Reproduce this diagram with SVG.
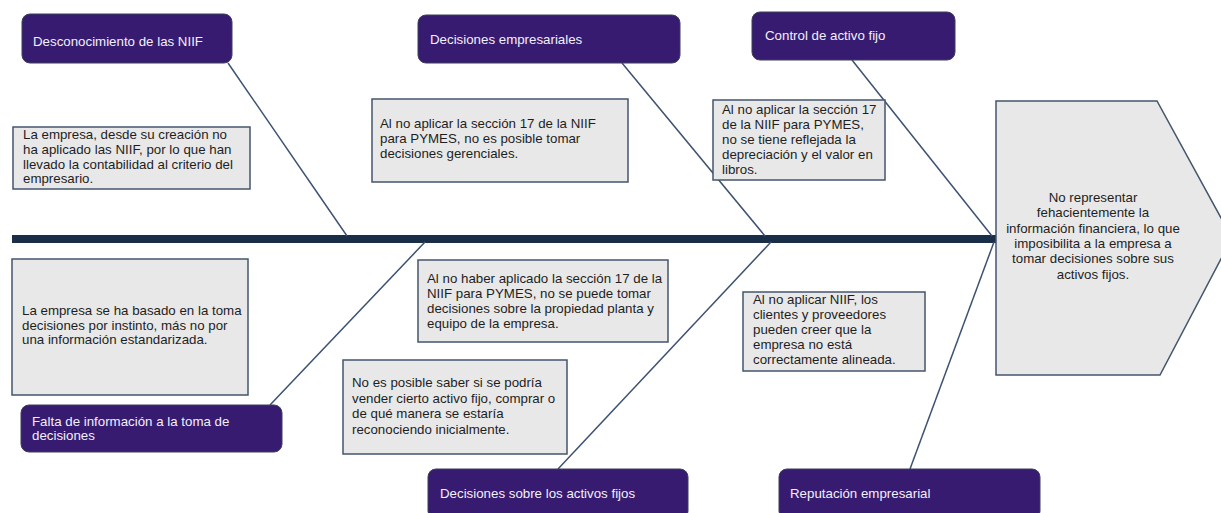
<svg xmlns="http://www.w3.org/2000/svg" width="1221" height="513" viewBox="0 0 1221 513">
<style>
.cat{fill:#371b70;stroke:#3b4058;stroke-width:1}
.ct{font-family:"Liberation Sans",Arial,sans-serif;font-size:13.3px;fill:#f2effa}
.box{fill:#e8e8e8;stroke:#44566e;stroke-width:1.5}
.bt{font-family:"Liberation Sans",Arial,sans-serif;font-size:13.3px;fill:#1e1e1e}
.conn{stroke:#3d5170;stroke-width:1.5;fill:none}
</style>
<rect width="1221" height="513" fill="#ffffff"/>
<g id="connectors">
<rect x="12" y="235" width="984" height="8" fill="#1b2e48"/>
<line class="conn" x1="228" y1="63" x2="347" y2="236"/>
<line class="conn" x1="622" y1="63" x2="765" y2="236"/>
<line class="conn" x1="852" y1="60" x2="992" y2="236"/>
<line class="conn" x1="270" y1="405" x2="425" y2="242"/>
<line class="conn" x1="558" y1="469" x2="771" y2="242"/>
<line class="conn" x1="910" y1="469" x2="994" y2="242"/>
</g>
<g id="effect">
<polygon class="box" points="996,101 1157,101 1232,238 1160,375 996,375"/>
<text class="bt" text-anchor="middle"><tspan x="1093" y="202">No representar</tspan><tspan x="1093" y="217.3">fehacientemente la</tspan><tspan x="1093" y="232.6">información financiera, lo que</tspan><tspan x="1093" y="247.9">imposibilita a la empresa a</tspan><tspan x="1093" y="263.2">tomar decisiones sobre sus</tspan><tspan x="1093" y="278.5">activos fijos.</tspan></text>
</g>
<g id="cat-desconocimiento">
<rect class="cat" x="22" y="14" width="210" height="49" rx="8"/>
<text class="ct" x="33" y="46">Desconocimiento de las NIIF</text>
</g>
<g id="cat-decisiones-empresariales">
<rect class="cat" x="418" y="15" width="262" height="48" rx="8"/>
<text class="ct" x="430" y="44">Decisiones empresariales</text>
</g>
<g id="cat-control">
<rect class="cat" x="752" y="12" width="203" height="48" rx="8"/>
<text class="ct" x="765" y="40">Control de activo fijo</text>
</g>
<g id="cat-falta">
<rect class="cat" x="21" y="405" width="261" height="47" rx="8"/>
<text class="ct"><tspan x="32" y="425.5">Falta de información a la toma de</tspan><tspan x="32" y="440">decisiones</tspan></text>
</g>
<g id="cat-activos">
<rect class="cat" x="428" y="469" width="260" height="50" rx="8"/>
<text class="ct" x="440" y="497.5">Decisiones sobre los activos fijos</text>
</g>
<g id="cat-reputacion">
<rect class="cat" x="779" y="469" width="261" height="50" rx="8"/>
<text class="ct" x="790" y="498">Reputación empresarial</text>
</g>
<g id="cause-1">
<rect class="box" x="13" y="127" width="237" height="62"/>
<text class="bt"><tspan x="23" y="139">La empresa, desde su creación no</tspan><tspan x="23" y="153.8">ha aplicado las NIIF, por lo que han</tspan><tspan x="23" y="168.6">llevado la contabilidad al criterio del</tspan><tspan x="23" y="183.4">empresario.</tspan></text>
</g>
<g id="cause-2">
<rect class="box" x="372" y="99" width="256" height="83"/>
<text class="bt"><tspan x="380" y="128">Al no aplicar la sección 17 de la NIIF</tspan><tspan x="380" y="143">para PYMES, no es posible tomar</tspan><tspan x="380" y="158">decisiones gerenciales.</tspan></text>
</g>
<g id="cause-3">
<rect class="box" x="713" y="100" width="172" height="80"/>
<text class="bt"><tspan x="722" y="114">Al no aplicar la sección 17</tspan><tspan x="722" y="129">de la NIIF para PYMES,</tspan><tspan x="722" y="144">no se tiene reflejada la</tspan><tspan x="722" y="159">depreciación y el valor en</tspan><tspan x="722" y="174">libros.</tspan></text>
</g>
<g id="cause-4">
<rect class="box" x="12" y="259" width="236" height="136"/>
<text class="bt"><tspan x="22" y="315">La empresa se ha basado en la toma</tspan><tspan x="22" y="329.5">decisiones por instinto, más no por</tspan><tspan x="22" y="344">una información estandarizada.</tspan></text>
</g>
<g id="cause-5">
<rect class="box" x="418" y="260" width="250" height="82"/>
<text class="bt"><tspan x="427" y="283">Al no haber aplicado la sección 17 de la</tspan><tspan x="427" y="298">NIIF para PYMES, no se puede tomar</tspan><tspan x="427" y="313">decisiones sobre la propiedad planta y</tspan><tspan x="427" y="328">equipo de la empresa.</tspan></text>
</g>
<g id="cause-6">
<rect class="box" x="343" y="360" width="224" height="94"/>
<text class="bt"><tspan x="352" y="387">No es posible saber si se podría</tspan><tspan x="352" y="402.5">vender cierto activo fijo, comprar o</tspan><tspan x="352" y="418">de qué manera se estaría</tspan><tspan x="352" y="433.5">reconociendo inicialmente.</tspan></text>
</g>
<g id="cause-7">
<rect class="box" x="743" y="292" width="182" height="79"/>
<text class="bt"><tspan x="753" y="304">Al no aplicar NIIF, los</tspan><tspan x="753" y="319">clientes y proveedores</tspan><tspan x="753" y="334">pueden creer que la</tspan><tspan x="753" y="349">empresa no está</tspan><tspan x="753" y="364">correctamente alineada.</tspan></text>
</g>
</svg>
